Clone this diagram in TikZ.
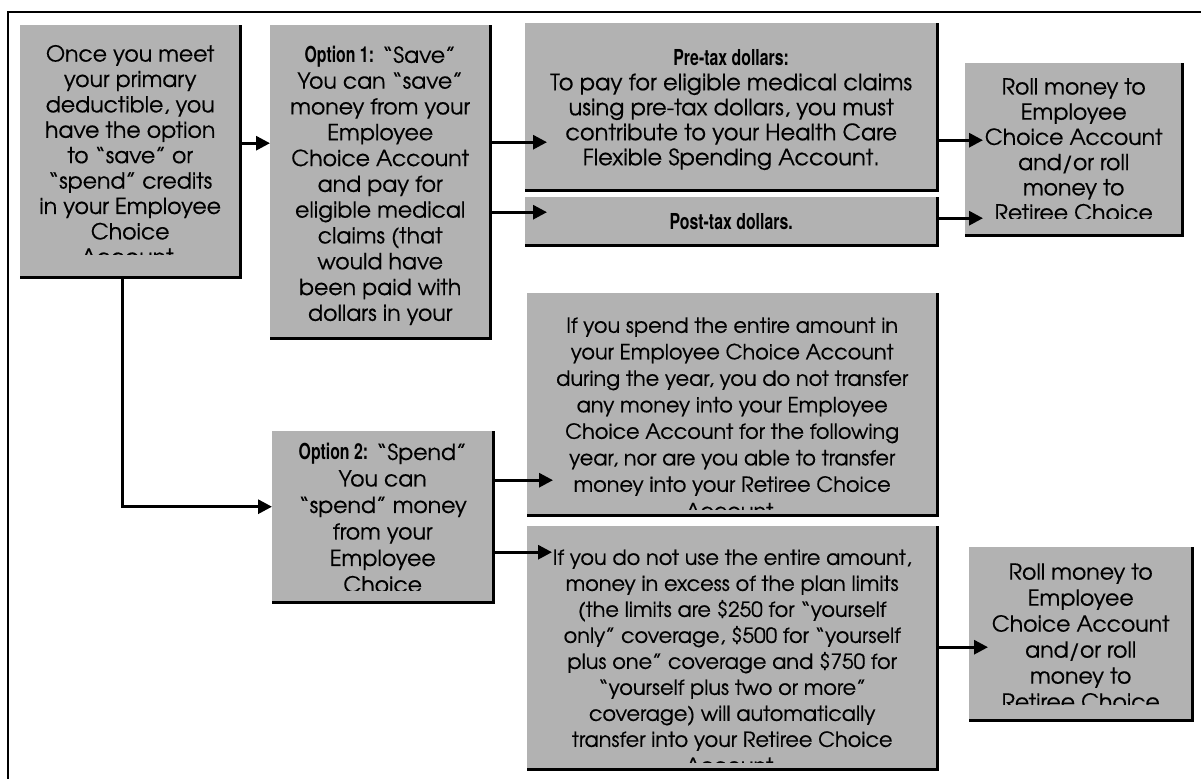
\documentclass[tikz,border=0pt]{standalone}
\usepackage{fontspec}
\IfFontExistsTF{TeX Gyre Adventor}{\setmainfont{TeX Gyre Adventor}[FakeBold=0.5]}{\setmainfont{Poppins}}
\newfontfamily\cond[FakeStretch=0.72]{TeX Gyre Heros}
\usetikzlibrary{arrows.meta}
\definecolor{boxgray}{gray}{0.70}
\newcommand\lab[1]{{\cond\bfseries\fontsize{22}{25}\selectfont #1}}
\newcommand\fs[2]{\fontsize{#1}{#2}\selectfont}
\begin{document}
\begin{tikzpicture}[x=1pt,y=-1pt,
  tbox/.style={fill=boxgray, inner sep=0pt, anchor=north west},
  txt/.style={anchor=north, align=center, inner sep=0pt},
  edge/.style={line width=2.5pt},
  arr/.style={line width=3pt, -{Triangle[length=14pt,width=14pt]}},
  frameline/.style={line width=2pt}]
\useasboundingbox (0,0) rectangle (1201,779);
\fill[white] (0,0) rectangle (1201,779);

% frame
\draw[frameline] (1201,12) -- (8,12) -- (8,779);

% box 1
\node[tbox, minimum width=220pt, minimum height=252pt,
  path picture={\clip ([yshift=23pt]path picture bounding box.south west) rectangle (path picture bounding box.north east);
  \node[txt, font=\fs{22}{25.4}] (b1t) at ([yshift=-3pt]path picture bounding box.north)
  {\strut Once you meet\\your primary\\deductible, you\\have the option\\to “save” or\\“spend” credits\\in your Employee\\Choice\\Account.};}] (b1) at (20,25) {};

% option 1
\node[tbox, minimum width=220pt, minimum height=313pt,
  path picture={
  \node[txt, font=\fs{22}{25.8}] (o1t) at ([yshift=-3pt]path picture bounding box.north)
  {\strut\lab{Option 1:} “Save”\\You can “save”\\money from your\\Employee\\Choice Account\\and pay for\\eligible medical\\claims (that\\would have\\been paid with\\dollars in your};}] (o1) at (270,25) {};

% pre-tax
\node[tbox, minimum width=412pt, minimum height=167pt,
  path picture={
  \node[txt, font=\fs{22.5}{25}] (pret) at ([yshift=-2pt]path picture bounding box.north)
  {\strut\lab{Pre-tax dollars:}\\To pay for eligible medical claims\\using pre-tax dollars, you must\\contribute to your Health Care\\Flexible Spending Account.};}] (pre) at (525,23) {};

% post-tax
\node[tbox, minimum width=412pt, minimum height=48pt,
  path picture={
  \node[anchor=center, inner sep=0pt, font=\fs{22}{25}] (postt) at (path picture bounding box.center)
  {\lab{Post-tax dollars.}};}] (post) at (525,197) {};

% roll 1
\node[tbox, minimum width=217pt, minimum height=172pt,
  path picture={\clip ([yshift=17pt]path picture bounding box.south west) rectangle (path picture bounding box.north east);
  \node[txt, font=\fs{22}{25.2}] (r1t) at ([yshift=-12pt]path picture bounding box.north)
  {\strut Roll money to\\Employee\\Choice Account\\and/or roll\\money to\\Retiree Choice\\Account.};}] (r1) at (965,63) {};

% option 2
\node[tbox, minimum width=221pt, minimum height=171pt,
  path picture={\clip ([yshift=12pt]path picture bounding box.south west) rectangle (path picture bounding box.north east);
  \node[txt, font=\fs{22}{26.5}] (o2t) at ([yshift=-10pt]path picture bounding box.north)
  {\strut\lab{Option 2:} “Spend”\\You can\\“spend” money\\from your\\Employee\\Choice\\Account.};}] (o2) at (272,431) {};

% box A
\node[tbox, minimum width=410pt, minimum height=222pt,
  path picture={\clip ([yshift=6pt]path picture bounding box.south west) rectangle (path picture bounding box.north east);
  \node[txt, font=\fs{20.8}{26.5}] (at) at ([yshift=-12pt]path picture bounding box.north)
  {\strut If you spend the entire amount in\\your Employee Choice Account\\during the year, you do not transfer\\any money into your Employee\\Choice Account for the following\\year, nor are you able to transfer\\money into your Retiree Choice\\Account.};}] (A) at (527,293) {};

% box B
\node[tbox, minimum width=410pt, minimum height=243pt,
  path picture={\clip ([yshift=7pt]path picture bounding box.south west) rectangle (path picture bounding box.north east);
  \node[txt, font=\fs{20.8}{26}] (bt) at ([yshift=-12pt]path picture bounding box.north)
  {\strut If you do not use the entire amount,\\money in excess of the plan limits\\(the limits are \$250 for “yourself\\only” coverage, \$500 for “yourself\\plus one” coverage and \$750 for\\“yourself plus two or more”\\coverage) will automatically\\transfer into your Retiree Choice\\Account.};}] (B) at (527,526) {};

% roll 2
\node[tbox, minimum width=223pt, minimum height=173pt,
  path picture={\clip ([yshift=16pt]path picture bounding box.south west) rectangle (path picture bounding box.north east);
  \node[txt, font=\fs{22}{26}] (r2t) at ([yshift=-14pt]path picture bounding box.north)
  {\strut Roll money to\\Employee\\Choice Account\\and/or roll\\money to\\Retiree Choice\\Account.};}] (r2) at (969,547) {};

% dark right/bottom edges
\foreach \n in {b1,o1,pre,post,r1,o2,A,B,r2}
  \draw[edge] (\n.north east) -- (\n.south east) -- (\n.south west);

% connector coordinates
\coordinate (c1) at ([yshift=8pt]b1.east -| o1.west);
\coordinate (p1) at ([xshift=22pt,yshift=-35.5pt]pre.west);
\coordinate (p2) at ([xshift=22pt,yshift=9pt]post.west);
\coordinate (q1) at ([xshift=18pt,yshift=9pt]r1.west);
\coordinate (q2) at ([xshift=18pt,yshift=-69pt]r1.west);
\coordinate (a1) at ([xshift=26pt,yshift=-76pt]A.west);
\coordinate (a2) at ([xshift=25pt,yshift=95.5pt]B.west);
\coordinate (s1) at ([xshift=19pt,yshift=-13.5pt]r2.west);
\coordinate (d0) at ([xshift=-8pt]b1.south);
\coordinate (d1) at ([yshift=10pt]o2.west);

% connectors
\draw[arr] ([yshift=8pt]b1.east) -- (c1);
\draw[arr] (d0) |- (d1);
\draw[arr] (o1.east |- p1) -- (p1);
\draw[arr] (o1.east |- p2) -- (p2);
\draw[arr] (pre.east |- q1) -- (q1);
\draw[arr] (post.east |- q2) -- (q2);
\draw[arr] (o2.east |- a1) -- (a1);
\draw[arr] (o2.east |- a2) -- (a2);
\draw[arr] (B.east |- s1) -- (s1);
\end{tikzpicture}
\end{document}
